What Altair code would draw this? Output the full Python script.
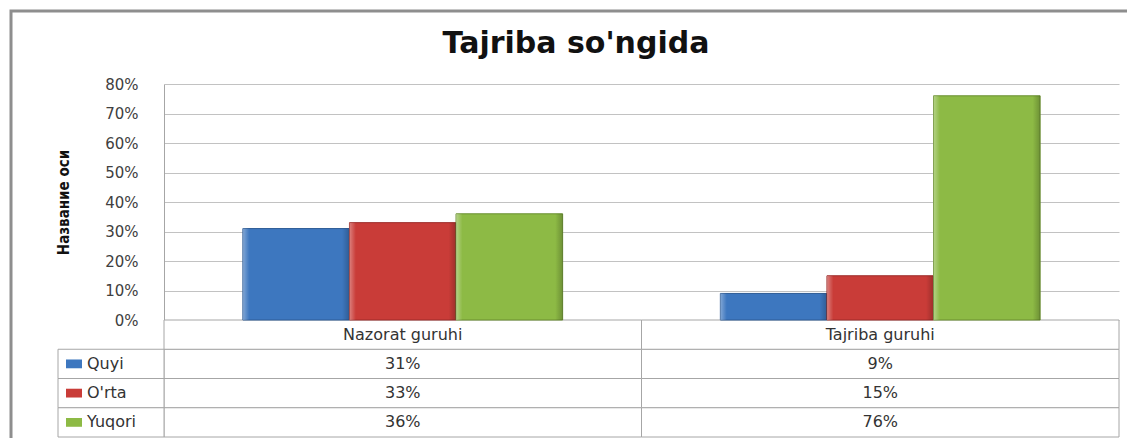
import altair as alt
import pandas as pd

# ---- data ----
categories = ["Nazorat guruhi", "Tajriba guruhi"]
series = ["Quyi", "O'rta", "Yuqori"]
quyi = [0.31, 0.09]
orta = [0.33, 0.15]
yuqori = [0.36, 0.76]
y_ticks = [0, 0.1, 0.2, 0.3, 0.4, 0.5, 0.6, 0.7, 0.8]
header_row = "header"
chart_title = "Tajriba so'ngida"

# ---- styles ----
fill_colors = ["#3D77BF", "#C93C38", "#8DBA45"]
edge_colors = ["#2E5C96", "#9C2B28", "#6A8F30"]
line_gray = "#a6a6a6"
grid_gray = "#c2c2c2"
text_color = "#333333"
W, H = 955, 236
TABLE_BOTTOM = 353

values = {"Quyi": quyi, "O'rta": orta, "Yuqori": yuqori}
rows = []
for s in series:
    for c, v in zip(categories, values[s]):
        rows.append({"category": c, "series": s, "value": v,
                     "row": s, "label": f"{round(v * 100)}%"})
bars_df = pd.DataFrame(rows)
hdr_df = pd.DataFrame({"category": categories, "row": header_row, "label": categories})
cells_df = pd.concat([bars_df[["category", "row", "label"]], hdr_df], ignore_index=True)
legend_df = pd.DataFrame({"row": series, "series": series})
table_rows = [header_row] + series

x_scale = alt.Scale(domain=categories, paddingInner=0, paddingOuter=0)
x_enc = alt.X("category:N", sort=categories, scale=x_scale, axis=None)
xoff_enc = alt.XOffset("series:N", sort=series,
                       scale=alt.Scale(domain=series, paddingInner=0, paddingOuter=0.74))
row_enc = alt.Y("row:N", sort=table_rows,
                scale=alt.Scale(domain=table_rows, range=[H, TABLE_BOTTOM],
                                paddingInner=0, paddingOuter=0),
                axis=None)
color_enc = alt.Color("series:N", sort=series,
                      scale=alt.Scale(domain=series, range=fill_colors), legend=None)

# outer chart frame (stroke only)
frame = alt.Chart(pd.DataFrame({"a": [0]})).mark_rect(
    filled=False, stroke="#8e8e8e", strokeWidth=3
).encode(x=alt.value(-153), x2=alt.value(1100), y=alt.value(-73), y2=alt.value(500))

# chart title (text mark)
title = alt.Chart(pd.DataFrame({"t": [chart_title]})).mark_text(
    font="DejaVu Sans", fontSize=30, fontWeight="bold", color="#111111",
    align="center", baseline="alphabetic"
).encode(x=alt.value(412), y=alt.value(-31), text="t:N")

# table cells
cells = alt.Chart(cells_df).mark_rect(
    fill="white", stroke=line_gray, strokeWidth=1
).encode(x=x_enc, y=row_enc)

legend_cells = alt.Chart(legend_df).mark_rect(
    fill="white", stroke=line_gray, strokeWidth=1
).encode(x=alt.value(-106), x2=alt.value(0), y=row_enc)

y_bar = alt.Y("value:Q", scale=alt.Scale(domain=[0, 0.8], nice=False),
              axis=alt.Axis(values=y_ticks, format=".0%", title="Название оси",
                            grid=True, ticks=False, labelPadding=26, labelFont="DejaVu Sans",
                            labelFontSize=15, labelColor="#404040",
                            domainColor=line_gray, gridColor=grid_gray,
                            titleFont="Liberation Sans Narrow, DejaVu Sans Condensed, Arial Narrow, sans-serif",
                            titleFontSize=15, titleFontWeight="bold", titleColor="#111111",
                            titleAngle=270, titleX=-101, titleY=118,
                            titleAlign="center", titleBaseline="middle"))

# bars
bars = alt.Chart(bars_df).mark_bar(strokeWidth=1).encode(
    x=x_enc, xOffset=xoff_enc, y=y_bar,
    color=color_enc,
    stroke=alt.Stroke("series:N", sort=series,
                      scale=alt.Scale(domain=series, range=edge_colors), legend=None),
)

# bevel-like shading overlay on the bars
shade = alt.Chart(bars_df).mark_bar(
    fill=alt.Gradient(
        gradient="linear", x1=0, x2=1, y1=0, y2=0,
        stops=[alt.GradientStop(color="rgba(255,255,255,0.35)", offset=0),
               alt.GradientStop(color="rgba(255,255,255,0)", offset=0.06),
               alt.GradientStop(color="rgba(0,0,0,0)", offset=0.93),
               alt.GradientStop(color="rgba(0,0,0,0.22)", offset=1)]),
    strokeWidth=0,
).encode(x=x_enc, xOffset=xoff_enc, y=y_bar)

# table texts
cell_text = alt.Chart(cells_df).mark_text(
    font="DejaVu Sans", fontSize=16, color=text_color
).encode(x=x_enc, y=row_enc, text="label:N")

legend_text = alt.Chart(legend_df).mark_text(
    font="DejaVu Sans", fontSize=16, color=text_color, align="left"
).encode(x=alt.value(-77), y=row_enc, text="series:N")

swatches = alt.Chart(legend_df).mark_point(
    shape="M-1,-0.55L1,-0.55L1,0.55L-1,0.55Z", size=256, filled=True, opacity=1
).encode(x=alt.value(-90), y=row_enc, color=color_enc)

bar_layer = alt.layer(bars, shade)

chart = alt.layer(
    frame, title, cells, legend_cells, bar_layer, cell_text, legend_text, swatches
).resolve_scale(y="independent").properties(
    width=W, height=H,
    autosize=alt.AutoSizeParams(type="none"),
    padding={"left": 156, "top": 76, "right": 8, "bottom": 118},
    background="white",
).configure_view(stroke=None)

chart.save("out.html", embed_options={"renderer": "svg", "actions": False})
